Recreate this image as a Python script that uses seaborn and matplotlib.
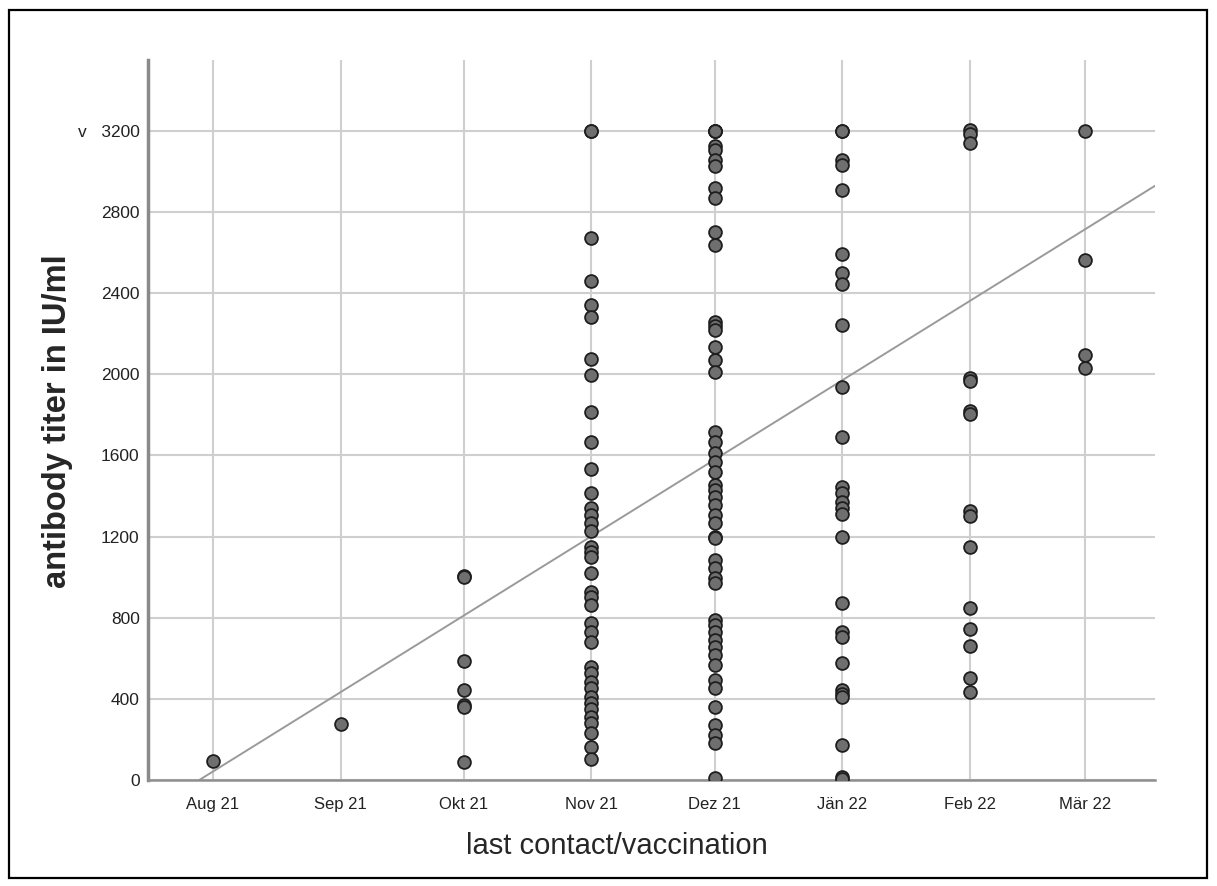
import numpy as np
import pandas as pd
import seaborn as sns
import matplotlib.pyplot as plt
from matplotlib.patches import Rectangle

# ---- data ----
months = ["Aug 21", "Sep 21", "Okt 21", "Nov 21", "Dez 21", "Jän 22", "Feb 22", "Mär 22"]
month_starts = ["2021-08-01", "2021-09-01", "2021-10-01", "2021-11-01",
                "2021-12-01", "2022-01-01", "2022-02-01", "2022-03-01"]
aug21 = [95]
sep21 = [278]
okt21 = [1005, 1000, 585, 444, 368, 362, 87]
nov21 = [3200, 3200, 2672, 2460, 2342, 2285, 2076, 1997, 1816, 1668, 1533, 1414, 1340, 1307,
         1266, 1229, 1150, 1126, 1101, 1019, 929, 904, 863, 773, 731, 682, 559, 526, 485,
         452, 411, 378, 348, 312, 279, 230, 164, 105]
dez21 = [3200, 3200, 3200, 3124, 3105, 3057, 3025, 2918, 2868, 2704, 2638, 2260, 2240, 2219,
         2137, 2071, 2013, 1715, 1668, 1611, 1570, 1520, 1455, 1430, 1397, 1356, 1307, 1269,
         1200, 1195, 1085, 1044, 995, 970, 789, 764, 731, 690, 657, 616, 567, 493, 452, 362,
         271, 222, 181, 8]
jan22 = [3200, 3200, 3057, 3033, 2910, 2594, 2498, 2446, 2244, 1940, 1690, 1447, 1414, 1373,
         1340, 1312, 1200, 875, 731, 707, 575, 444, 425, 410, 173, 15, 5]
feb22 = [3204, 3185, 3139, 1983, 1966, 1818, 1803, 1325, 1303, 1151, 847, 743, 660, 505, 434]
mar22 = [3200, 2564, 2096, 2031]
y_ticks = [0, 400, 800, 1200, 1600, 2000, 2400, 2800, 3200]
y_ticklabels = ["0", "400", "800", "1200", "1600", "2000", "2400", "2800", "v   3200"]
fit_intercept = 42     # fitted titer at 1 Aug 2021
fit_slope = 12.61      # titer change per day

series = [aug21, sep21, okt21, nov21, dez21, jan22, feb22, mar22]
origin = pd.Timestamp(month_starts[0])
month_days = [(pd.Timestamp(d) - origin).days for d in month_starts]
df = pd.DataFrame({
    "day": np.concatenate([[month_days[i]] * len(s) for i, s in enumerate(series)]),
    "titer": np.concatenate(series),
})

# ---- figure ----
sns.set_theme(style="whitegrid")
plt.rcParams['font.family'] = ['Liberation Sans', 'DejaVu Sans']

W, H = 1217, 886
fig = plt.figure(figsize=(W / 100, H / 100), dpi=100)
fig.patch.set_facecolor("white")
ax = fig.add_axes([148 / W, 1 - 780 / H, (1155 - 148) / W, (780 - 60) / H])
ax.set_facecolor("white")

ax.axline((0, fit_intercept), slope=fit_slope, color="#9a9a9a", lw=1.4, zorder=2)
sns.scatterplot(data=df, x="day", y="titer", ax=ax, s=85, color="#6f6f6f",
                edgecolor="#1e1e1e", linewidth=1.3, zorder=3, legend=False)

ax.set_xlim(-15.8, 229.0)
ax.set_ylim(0, 3550)
ax.set_xticks(month_days)
ax.set_xticklabels(months, fontsize=12, color="#222222")
ax.set_yticks(y_ticks)
ax.set_yticklabels(y_ticklabels, fontsize=12.5, color="#222222")
ax.grid(True, color="#cfcfcf", lw=1.5)
ax.set_axisbelow(True)
for s in ["top", "right"]:
    ax.spines[s].set_visible(False)
ax.spines["left"].set_color("#8a8a8a")
ax.spines["left"].set_linewidth(2.5)
ax.spines["bottom"].set_color("#8f8f8f")
ax.spines["bottom"].set_linewidth(1.8)
ax.tick_params(axis="x", length=0, pad=12)
ax.tick_params(axis="y", length=0, pad=6)

ax.set_xlabel("last contact/vaccination", fontsize=21)
ax.set_ylabel("antibody titer in IU/ml", fontsize=23.5, fontweight="bold")
ax.xaxis.set_label_coords((617 - 148) / 1007, -(832 - 780) / 720)
ax.yaxis.set_label_coords((73 - 148) / 1007, 0.4986)

fig.add_artist(Rectangle((9 / W, 1 - 878 / H), (1207 - 9) / W, (878 - 10) / H,
                         transform=fig.transFigure, fill=False, ec="black", lw=1.6))

fig.savefig("out.png", dpi=100)
